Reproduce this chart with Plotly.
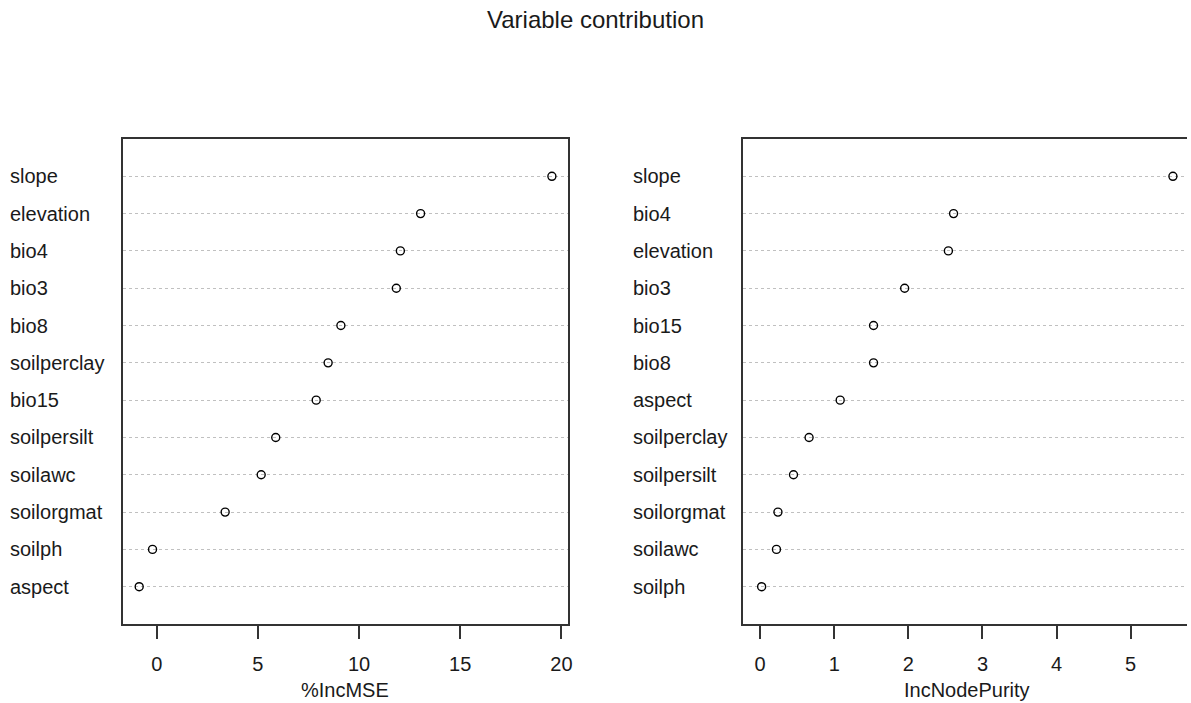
import plotly.graph_objects as go

# Data (top to bottom as shown)
mse_vars = ["slope", "elevation", "bio4", "bio3", "bio8", "soilperclay", "bio15",
            "soilpersilt", "soilawc", "soilorgmat", "soilph", "aspect"]
mse_vals = [19.53, 13.04, 12.04, 11.84, 9.10, 8.47, 7.88, 5.88, 5.16, 3.38, -0.21, -0.87]

np_vars = ["slope", "bio4", "elevation", "bio3", "bio15", "bio8", "aspect",
           "soilperclay", "soilpersilt", "soilorgmat", "soilawc", "soilph"]
np_vals = [5.57, 2.61, 2.54, 1.95, 1.53, 1.53, 1.08, 0.66, 0.45, 0.24, 0.22, 0.02]

mse_ticks = [0, 5, 10, 15, 20]
np_ticks = [0, 1, 2, 3, 4, 5]

title_text = "Variable contribution"
mse_label = "%IncMSE"
np_label = "IncNodePurity"

W, H = 1191, 703
FONT = "Liberation Sans, Arial, sans-serif"
TXT = "#1a1a1a"

fig = go.Figure()
fig.add_trace(go.Scatter(x=mse_vals, y=mse_vars, mode="markers", xaxis="x", yaxis="y",
                         marker=dict(symbol="circle-open", size=8, color="black",
                                     line=dict(width=1.4, color="black")),
                         showlegend=False, hoverinfo="x+y"))
fig.add_trace(go.Scatter(x=np_vals, y=np_vars, mode="markers", xaxis="x2", yaxis="y2",
                         marker=dict(symbol="circle-open", size=8, color="black",
                                     line=dict(width=1.4, color="black")),
                         showlegend=False, hoverinfo="x+y"))

top_px, bot_px = 139, 624
xaxis_common = dict(showgrid=False, zeroline=False, showline=True, linecolor="#333333",
                    linewidth=1.5, mirror=True, ticks="outside", ticklen=13, tickwidth=1.5,
                    tickcolor="#333333", tickfont=dict(family=FONT, size=20, color=TXT),
                    ticklabelstandoff=8)
yaxis_common = dict(type="category", showticklabels=False, ticks="", zeroline=False,
                    showgrid=True, gridcolor="#c0c0c0", griddash="dot", gridwidth=1,
                    showline=True, linecolor="#333333", linewidth=1.5, range=[-1, 12])

fig.update_layout(
    width=W, height=H,
    margin=dict(l=0, r=0, t=top_px, b=H - bot_px),
    paper_bgcolor="white", plot_bgcolor="white",
    xaxis=dict(domain=[123 / W, 570 / W], range=[-1.69, 20.33], tickvals=mse_ticks,
               ticktext=[str(t) for t in mse_ticks], anchor="y", **xaxis_common),
    yaxis=dict(domain=[0, 1], anchor="x", mirror=True,
               categoryorder="array", categoryarray=mse_vars[::-1], **yaxis_common),
    xaxis2=dict(domain=[746 / W, 1], range=[-0.2248, 5.76], tickvals=np_ticks,
                ticktext=[str(t) for t in np_ticks], anchor="y2", **xaxis_common),
    yaxis2=dict(domain=[0, 1], anchor="x2", mirror=False,
                categoryorder="array", categoryarray=np_vars[::-1], **yaxis_common),
    title=dict(text=title_text, x=0.5, xref="container", xanchor="center",
               y=1 - 20 / H, yref="container", yanchor="middle",
               font=dict(family=FONT, size=24, color=TXT)),
)

ann = []
for v in mse_vars:
    ann.append(dict(text=v, x=8 / W, xref="paper", y=v, yref="y", xanchor="left",
                    yanchor="middle", showarrow=False,
                    font=dict(family=FONT, size=20, color=TXT)))
for v in np_vars:
    ann.append(dict(text=v, x=633 / W, xref="paper", y=v, yref="y2", xanchor="left",
                    yanchor="middle", showarrow=False,
                    font=dict(family=FONT, size=20, color=TXT)))
plot_h = bot_px - top_px
ann.append(dict(text=mse_label, x=(123 + 570) / 2 / W, xref="paper",
                y=(bot_px - 690) / plot_h, yref="paper", xanchor="center", yanchor="middle",
                showarrow=False, font=dict(family=FONT, size=20, color=TXT)))
ann.append(dict(text=np_label, x=(746 + 1195) / 2 / W, xref="paper",
                y=(bot_px - 690) / plot_h, yref="paper", xanchor="center", yanchor="middle",
                showarrow=False, font=dict(family=FONT, size=20, color=TXT)))
fig.update_layout(annotations=ann)

fig.write_html("out.html")
